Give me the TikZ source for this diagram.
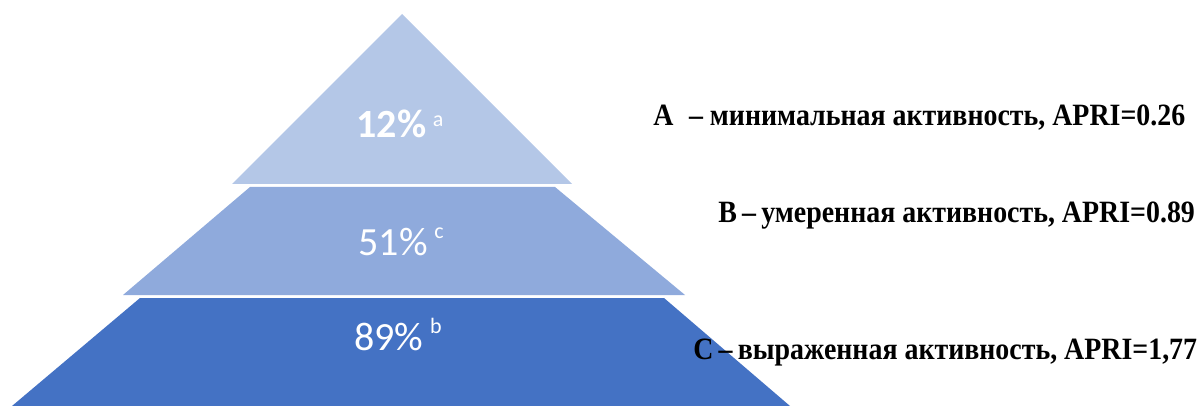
\documentclass[tikz,border=0pt]{standalone}
\usepackage{fontspec}
\setmainfont{Liberation Serif}[FakeStretch=0.9]
\newfontfamily\pctfont{Carlito}
\usetikzlibrary{positioning}
\tikzset{
    tier/.style={draw=none},
    pct label/.style={font=\pctfont\fontsize{20}{24}\selectfont, text=white, inner sep=0pt, anchor=base},
    level label/.style={font=\bfseries\fontsize{15.5}{18}\selectfont, inner sep=0pt, anchor=base west},
}
\definecolor{tierA}{HTML}{B4C7E7}
\definecolor{tierB}{HTML}{8FAADC}
\definecolor{tierC}{HTML}{4472C4}
\newcommand{\drawtiers}{
    % top triangle, then the two trapezoids below it
    \fill[tier, tierA] (402,14) -- (572,184) -- (232,184) -- cycle;
    \fill[tier, tierB] (250,187) -- (555,187) -- (685,295) -- (123,295) -- cycle;
    \fill[tier, tierC] (140,298) -- (664,298) -- (790,406) -- (12,406) -- cycle;
}
% small raised letter after a percentage
\newcommand{\supmark}[2]{\,\raisebox{#1}{\fontsize{11}{12}\selectfont #2}}

\begin{document}
\begin{tikzpicture}[x=0.5pt, y=-0.5pt]
    \useasboundingbox (0,0) rectangle (1198,406);
    \drawtiers
    \node[pct label] (pctA) at (400,138) {\textbf{12\%}\supmark{5.5pt}{a}};
    \node[pct label] (pctB) at (401,256) {51\%\supmark{8.5pt}{c}};
    \node[pct label] (pctC) at (398,350) {89\%\supmark{8.5pt}{b}};
    \node[level label] (levA) at (653,126) {A\enspace – минимальная активность, APRI=0.26};
    \node[level label] (levB) at (718,222) {B\,–\,умеренная активность, APRI=0.89};
    \node[level label] (levC) at (693,359) {C\,–\,выраженная активность, APRI=1,77};
\end{tikzpicture}
\end{document}
